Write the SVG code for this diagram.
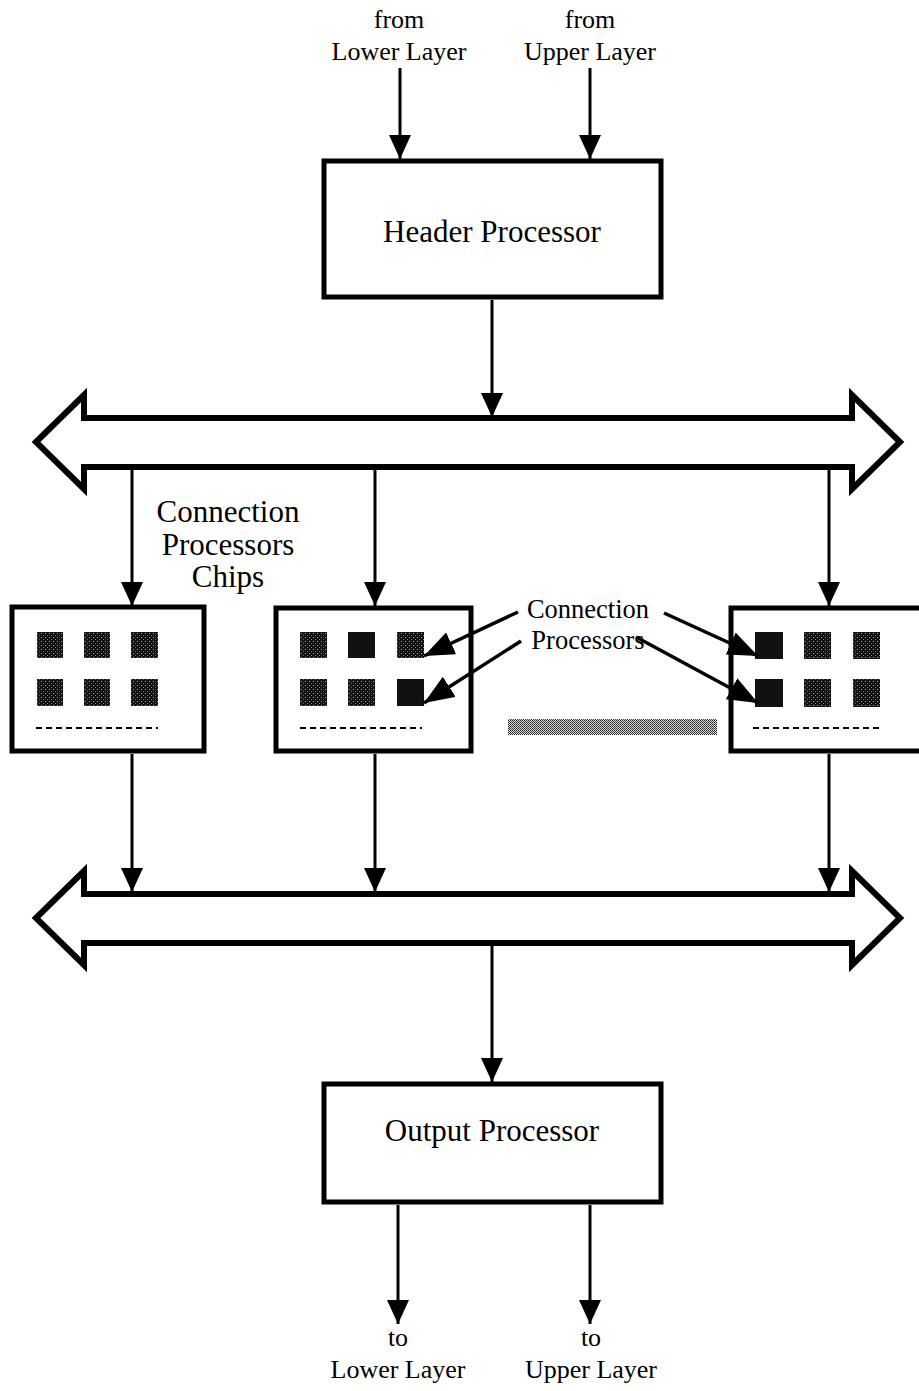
<svg xmlns="http://www.w3.org/2000/svg" width="919" height="1391" viewBox="0 0 919 1391">
  <style>
    .box { fill: #fff; stroke: #000; stroke-width: 5; }
    .bus { fill: #fff; stroke: #000; stroke-width: 6; stroke-linejoin: miter; }
    .wire { fill: none; stroke: #000; stroke-width: 3; }
    .ptr { fill: none; stroke: #000; stroke-width: 3.5; }
    .dash { stroke: #000; stroke-width: 2; stroke-dasharray: 6 4; }
    .lbl { font-family: "Liberation Serif", "Times New Roman", serif; fill: #000; text-anchor: middle; }
    .small { font-size: 26px; }
    .mid { font-size: 26.5px; }
    .big { font-size: 31px; }
    .cp { fill: url(#speckle); }
    .cp-solid { fill: #111; }
  </style>
  <defs>
    <marker id="head" markerUnits="userSpaceOnUse" viewBox="0 0 24 22" markerWidth="24" markerHeight="22" refX="24" refY="11" orient="auto">
      <path d="M0,0 L24,11 L0,22 z" fill="#000"/>
    </marker>
    <marker id="phead" markerUnits="userSpaceOnUse" viewBox="0 0 30 24" markerWidth="30" markerHeight="24" refX="30" refY="12" orient="auto">
      <path d="M0,0 L30,12 L0,24 z" fill="#000"/>
    </marker>
    <pattern id="speckle" width="4" height="4" patternUnits="userSpaceOnUse">
      <rect width="4" height="4" fill="#151515"/>
      <rect x="1" y="1" width="1" height="1" fill="#9a9a9a"/>
      <rect x="3" y="3" width="1" height="1" fill="#6a6a6a"/>
    </pattern>
    <pattern id="dither" width="2" height="2" patternUnits="userSpaceOnUse">
      <rect width="2" height="2" fill="#d8d8d8"/>
      <rect width="1" height="1" fill="#222"/>
      <rect x="1" y="1" width="1" height="1" fill="#444"/>
    </pattern>
  </defs>

  <rect width="919" height="1391" fill="#fff"/>

  <!-- input labels -->
  <g id="inputs">
    <text class="lbl small" x="399" y="28">from</text>
    <text class="lbl small" x="399" y="60">Lower Layer</text>
    <text class="lbl small" x="590" y="28">from</text>
    <text class="lbl small" x="590" y="60">Upper Layer</text>
  </g>

  <g id="header-processor">
    <rect class="box" x="324" y="161" width="337" height="136"/>
    <text class="lbl big" x="492" y="242">Header Processor</text>
  </g>

  <g id="upper-bus">
    <polygon class="bus" points="36,442 84,395 84,418 852,418 852,395 900,442 852,489 852,467 84,467 84,489"/>
  </g>

  <g id="chips-label">
    <text class="lbl big" x="228" y="522">Connection</text>
    <text class="lbl big" x="228" y="555">Processors</text>
    <text class="lbl big" x="228" y="587">Chips</text>
  </g>

  <g id="chip-1">
    <rect class="box" x="12" y="607" width="192" height="144"/>
    <rect class="cp" x="37" y="632" width="26" height="26"/>
    <rect class="cp" x="84" y="632" width="26" height="26"/>
    <rect class="cp" x="131" y="632" width="27" height="26"/>
    <rect class="cp" x="37" y="679" width="26" height="27"/>
    <rect class="cp" x="84" y="679" width="26" height="27"/>
    <rect class="cp" x="131" y="679" width="27" height="27"/>
    <line class="dash" x1="36" y1="728" x2="158" y2="728"/>
  </g>

  <g id="chip-2">
    <rect class="box" x="276" y="608" width="195" height="143"/>
    <rect class="cp" x="300" y="632" width="27" height="26"/>
    <rect class="cp-solid" x="348" y="632" width="27" height="26"/>
    <rect class="cp" x="397" y="632" width="27" height="26"/>
    <rect class="cp" x="300" y="679" width="27" height="27"/>
    <rect class="cp" x="348" y="679" width="27" height="27"/>
    <rect class="cp-solid" x="397" y="679" width="27" height="27"/>
    <line class="dash" x1="300" y1="728" x2="422" y2="728"/>
  </g>

  <g id="connection-processors-label">
    <text class="lbl mid" x="588" y="618">Connection</text>
    <text class="lbl mid" x="588" y="649">Processors</text>
  </g>

  <g id="more-chips">
    <rect x="508" y="719" width="209" height="16" fill="url(#dither)"/>
  </g>

  <g id="chip-3">
    <rect class="box" x="731" y="608" width="200" height="143"/>
    <rect class="cp-solid" x="755" y="632" width="28" height="27"/>
    <rect class="cp" x="804" y="632" width="27" height="27"/>
    <rect class="cp" x="853" y="632" width="27" height="27"/>
    <rect class="cp-solid" x="755" y="679" width="28" height="28"/>
    <rect class="cp" x="804" y="679" width="27" height="28"/>
    <rect class="cp" x="853" y="679" width="27" height="28"/>
    <line class="dash" x1="753" y1="728" x2="880" y2="728"/>
  </g>

  <g id="lower-bus">
    <polygon class="bus" points="36,918 84,871 84,894 852,894 852,871 900,918 852,965 852,943 84,943 84,965"/>
  </g>

  <g id="output-processor">
    <rect class="box" x="324" y="1084" width="337" height="118"/>
    <text class="lbl big" x="492" y="1141">Output  Processor</text>
  </g>

  <g id="outputs">
    <text class="lbl small" x="398" y="1346">to</text>
    <text class="lbl small" x="398" y="1378">Lower Layer</text>
    <text class="lbl small" x="591" y="1346">to</text>
    <text class="lbl small" x="591" y="1378">Upper Layer</text>
  </g>

  <!-- connectors, drawn last so they sit on top of the boxes -->
  <g id="connectors">
    <line class="wire" x1="400" y1="68" x2="400" y2="159" marker-end="url(#head)"/>
    <line class="wire" x1="590" y1="68" x2="590" y2="159" marker-end="url(#head)"/>
    <line class="wire" x1="492" y1="300" x2="492" y2="417" marker-end="url(#head)"/>
    <line class="wire" x1="132" y1="469" x2="132" y2="606" marker-end="url(#head)"/>
    <line class="wire" x1="375" y1="469" x2="375" y2="606" marker-end="url(#head)"/>
    <line class="wire" x1="829" y1="469" x2="829" y2="606" marker-end="url(#head)"/>
    <line class="wire" x1="132" y1="754" x2="132" y2="892" marker-end="url(#head)"/>
    <line class="wire" x1="375" y1="754" x2="375" y2="892" marker-end="url(#head)"/>
    <line class="wire" x1="829" y1="754" x2="829" y2="892" marker-end="url(#head)"/>
    <line class="wire" x1="492" y1="945" x2="492" y2="1082" marker-end="url(#head)"/>
    <line class="wire" x1="398" y1="1205" x2="398" y2="1324" marker-end="url(#head)"/>
    <line class="wire" x1="590" y1="1205" x2="590" y2="1324" marker-end="url(#head)"/>
    <!-- pointers from the "Connection Processors" label -->
    <line class="ptr" x1="518" y1="612" x2="424" y2="656" marker-end="url(#phead)"/>
    <line class="ptr" x1="521" y1="641" x2="424" y2="703" marker-end="url(#phead)"/>
    <line class="ptr" x1="664" y1="613" x2="758" y2="656" marker-end="url(#phead)"/>
    <line class="ptr" x1="636" y1="637" x2="758" y2="703" marker-end="url(#phead)"/>
  </g>
</svg>
